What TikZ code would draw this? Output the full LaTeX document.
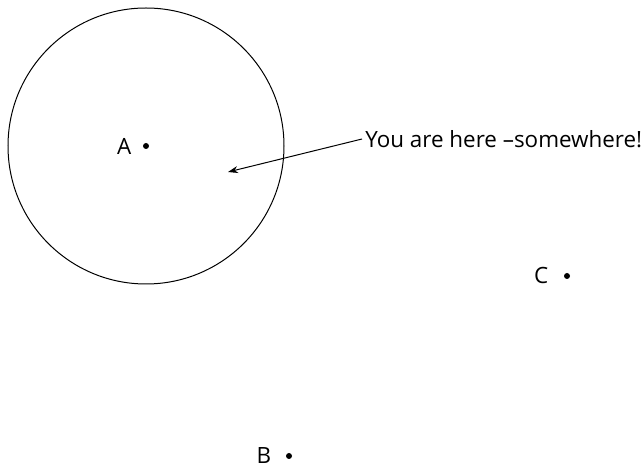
\documentclass[tikz,border=0pt]{standalone}
\usepackage{fontspec}
\setmainfont{Open Sans}
\usetikzlibrary{positioning, arrows.meta}

\begin{document}
\begin{tikzpicture}[
  x=0.5pt, y=-0.5pt,
  spot/.style={circle, fill, inner sep=0pt, minimum size=3pt},
  lbl/.style={font=\fontsize{11.2}{13}\selectfont, inner sep=0pt},
  arrow/.style={-{Stealth[length=5pt, width=3.5pt]}, line width=0.5pt}
]
\useasboundingbox (0,0) rectangle (644,470);

% ---- points ----
\node[spot] (A) at (146,146) {};
\node[spot] (B) at (289,456) {};
\node[spot] (C) at (567,276) {};
\node[lbl, left=5.5pt of A] (labA) {A};
\node[lbl, left=7pt of B]   (labB) {B};
\node[lbl, left=7.5pt of C] (labC) {C};

% ---- zone around A ----
\node[draw, circle, line width=0.5pt, inner sep=0pt, minimum size=138pt] (zone) at (A) {};

% ---- annotation ----
\node[lbl, anchor=west, inner sep=1.5pt] (msg) at (362,139) {You are here –somewhere!};
\coordinate (here) at (228,172);
\draw[arrow] (msg.west) -- (here);

\end{tikzpicture}
\end{document}
